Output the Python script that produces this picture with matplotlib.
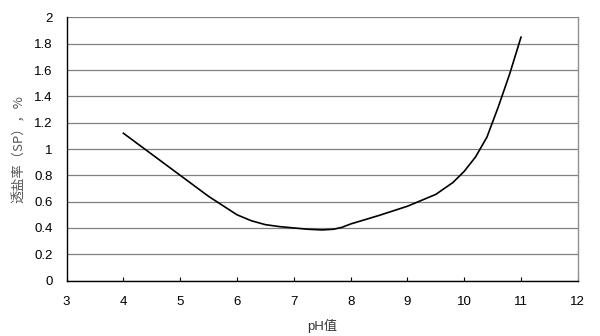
import matplotlib
matplotlib.use("Agg")
import matplotlib.pyplot as plt

ph = [4, 4.5, 5, 5.5, 6, 6.25, 6.5, 6.75, 7, 7.25, 7.5, 7.7, 7.85, 8, 8.5, 9, 9.5, 9.8, 10, 10.2, 10.4, 10.6, 10.8, 11]
sp = [1.12, 0.96, 0.80, 0.64, 0.50, 0.455, 0.425, 0.41, 0.40, 0.39, 0.385, 0.39, 0.405, 0.43, 0.495, 0.565, 0.655, 0.745, 0.83, 0.94, 1.09, 1.32, 1.57, 1.85]
x_ticks = [3, 4, 5, 6, 7, 8, 9, 10, 11, 12]
y_ticks = [0, 0.2, 0.4, 0.6, 0.8, 1, 1.2, 1.4, 1.6, 1.8, 2]
y_tick_labels = ["0", "0.2", "0.4", "0.6", "0.8", "1", "1.2", "1.4", "1.6", "1.8", "2"]

plt.rcParams['font.family'] = ['Liberation Sans', 'Noto Sans CJK SC', 'DejaVu Sans']

fig = plt.figure(figsize=(6, 3.36), dpi=100)
ax = fig.add_axes([0.111, 0.165, 0.852, 0.783])

ax.plot(ph, sp, color='black', linewidth=1.2, zorder=3)

ax.set_xlim(3, 12)
ax.set_ylim(0, 2)
ax.set_xticks(x_ticks)
ax.set_xticklabels([str(v) for v in x_ticks])
ax.set_yticks(y_ticks)
ax.set_yticklabels(y_tick_labels)

ax.yaxis.grid(True, color='#808080', linewidth=0.9)
ax.set_axisbelow(True)

for s in ['left', 'bottom']:
    ax.spines[s].set_color('black')
    ax.spines[s].set_linewidth(1.0)
ax.spines['right'].set_color('#909090')
ax.spines['right'].set_linewidth(1.0)
ax.spines['top'].set_visible(False)

ax.tick_params(axis='x', direction='in', length=3, width=0.8, labelsize=9.5, pad=11, colors='black')
ax.tick_params(axis='y', length=0, labelsize=9.5, pad=10, colors='black')

ax.set_xlabel('pH值', fontsize=9.5, color='#333333', labelpad=8,
              family=['Liberation Sans', 'Noto Sans CJK SC'])
ax.set_ylabel('透盐率（SP），%', fontsize=9.5, color='#555555', labelpad=6,
              family=['Noto Sans CJK SC', 'Liberation Sans'])

fig.savefig('out.png', dpi=100)
